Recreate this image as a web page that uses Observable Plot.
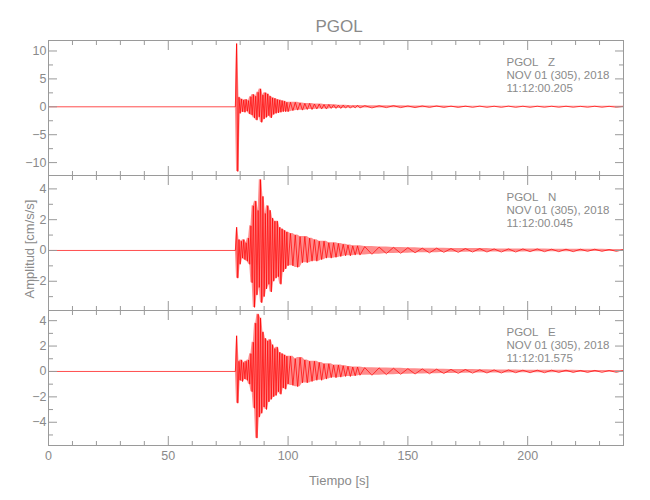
<!DOCTYPE html>
<html>
<head>
<meta charset="utf-8">
<script src="https://cdn.jsdelivr.net/npm/d3@7"></script>
<script src="https://cdn.jsdelivr.net/npm/@observablehq/plot@0.6"></script>
<style>
  html, body { margin: 0; padding: 0; background: #fff; }
  #wrap { position: relative; width: 650px; height: 500px; overflow: hidden; }
  #wrap svg { position: absolute; left: 0; background: transparent !important; overflow: visible; }
</style>
</head>
<body>
<div id="wrap"></div>
<script>
// ---------- data ----------
const chartTitle = "PGOL";
const station = "PGOL";
const components = ["Z", "N", "E"];
const recordDates = ["NOV 01 (305), 2018", "NOV 01 (305), 2018", "NOV 01 (305), 2018"];
const startTimes = ["11:12:00.205", "11:12:00.045", "11:12:01.575"];
const xLabel = "Tiempo [s]";
const yLabel = "Amplitud [cm/s/s]";

// sample times (s) of the read-off peaks
const timeSec = [0, 78,
  78.5, 79, 79.5, 80, 80.5, 81, 81.5, 82, 82.5, 83,
  83.5, 84, 84.5, 85, 85.5, 86, 86.5, 87, 87.5, 88,
  88.5, 89, 89.5, 90, 90.5, 91, 91.5, 92, 92.5, 93,
  93.5, 94, 94.5, 95, 95.5, 96, 96.5, 97, 97.5, 98,
  98.5, 99, 99.5, 100,
  101, 102, 103, 104, 105, 106, 107, 108, 109, 110,
  111, 112, 113, 114, 115, 116, 117, 118, 119, 120,
  121, 122, 123, 124, 125, 126, 127, 128, 129, 130,
  132, 135, 138, 141, 144, 147, 150, 153, 156, 159,
  162, 165, 168, 171, 174, 177, 180, 183, 186, 189,
  192, 195, 198, 201, 204, 207, 210, 213, 216, 219,
  222, 225, 228, 231, 234, 237, 240];

// amplitude (cm/s/s), component Z
const ampZ = [0, 0,
  11.3, -11.6, 1.7, -1.2, 1.4, -0.9, 1.2, -1.0, 1.3, -0.8,
  1.1, -1.3, 1.8, -1.5, 2.2, -2.0, 1.9, -2.4, 2.6, -1.8,
  3.2, -2.8, 2.1, -2.2, 2.5, -1.9, 2.3, -1.6, 1.9, -2.0,
  1.6, -1.4, 1.5, -1.2, 1.3, -1.1, 1.2, -1.0, 1.1, -0.9,
  1.0, -0.9, 0.8, -0.9,
  0.8, -0.7, 0.8, -0.6, 0.7, -0.6, 0.6, -0.5, 0.6, -0.5,
  0.5, -0.4, 0.5, -0.4, 0.4, -0.4, 0.4, -0.3, 0.35, -0.3,
  0.3, -0.3, 0.3, -0.25, 0.25, -0.25, 0.2, -0.2, 0.25, -0.2,
  0.2, -0.2, 0.18, -0.15, 0.2, -0.15, 0.15, -0.15, 0.15, -0.12,
  0.15, -0.12, 0.12, -0.12, 0.12, -0.1, 0.12, -0.1, 0.1, -0.1,
  0.12, -0.1, 0.1, -0.1, 0.1, -0.08, 0.1, -0.08, 0.1, -0.08,
  0.08, -0.08, 0.1, -0.08, 0.08, -0.08, 0.08];

// component N
const ampN = [0, 0,
  1.5, -1.8, 0.7, -0.9, 0.6, -0.5, 0.7, -0.6, 0.5, -0.7,
  0.8, -0.9, 1.6, -2.1, 2.9, -3.7, 3.2, -2.9, 2.6, -2.4,
  4.6, -3.4, 3.5, -3.0, 2.4, -2.5, 2.9, -2.2, 2.6, -2.7,
  2.1, -2.0, 1.9, -1.8, 1.9, -1.7, 1.5, -2.2, 1.4, -1.4,
  1.3, -1.2, 1.2, -1.0,
  1.1, -1.0, 1.0, -1.1, 0.9, -0.8, 0.9, -0.8, 0.8, -0.7,
  0.7, -0.7, 0.6, -0.6, 0.6, -0.5, 0.5, -0.5, 0.5, -0.45,
  0.45, -0.4, 0.4, -0.35, 0.35, -0.35, 0.3, -0.3, 0.3, -0.3,
  0.25, -0.25, 0.22, -0.2, 0.2, -0.18, 0.18, -0.15, 0.15, -0.15,
  0.15, -0.12, 0.12, -0.12, 0.12, -0.1, 0.12, -0.1, 0.1, -0.1,
  0.1, -0.1, 0.1, -0.08, 0.1, -0.08, 0.08, -0.08, 0.08, -0.08,
  0.08, -0.06, 0.08, -0.06, 0.06, -0.06, 0.06];

// component E
const ampE = [0, 0,
  2.8, -2.5, 0.8, -0.7, 0.9, -0.8, 0.7, -0.6, 0.8, -0.7,
  0.9, -1.0, 1.4, -1.6, 2.3, -2.9, 3.8, -5.25, 4.5, -3.6,
  4.2, -3.3, 3.1, -2.8, 2.6, -3.0, 2.4, -2.4, 2.5, -2.2,
  2.1, -2.0, 1.8, -1.9, 1.9, -1.6, 1.5, -1.8, 1.4, -1.3,
  1.3, -1.4, 1.2, -1.0,
  1.2, -1.1, 1.0, -1.2, 1.1, -0.9, 0.9, -0.9, 0.8, -0.8,
  0.8, -0.7, 0.7, -0.7, 0.6, -0.6, 0.6, -0.5, 0.5, -0.5,
  0.5, -0.45, 0.45, -0.4, 0.4, -0.4, 0.35, -0.35, 0.35, -0.3,
  0.3, -0.3, 0.28, -0.25, 0.25, -0.22, 0.22, -0.2, 0.2, -0.18,
  0.18, -0.16, 0.16, -0.15, 0.15, -0.13, 0.13, -0.12, 0.12, -0.12,
  0.12, -0.1, 0.1, -0.1, 0.1, -0.1, 0.1, -0.08, 0.1, -0.08,
  0.08, -0.08, 0.08, -0.07, 0.07, -0.07, 0.07];

// tick values
const xTicksMajor = [0, 50, 100, 150, 200];
const xTicksMinor = [10, 20, 30, 40, 60, 70, 80, 90, 110, 120, 130, 140, 160, 170, 180, 190, 210, 220, 230, 240];
const yTicksZ = [-10, -5, 0, 5, 10];
const yMinorZ = [-7.5, -2.5, 2.5, 7.5];
const yTicksN = [-2, 0, 2, 4];
const yMinorN = [-3, -1, 1, 3];
const yTicksE = [-4, -2, 0, 2, 4];
const yMinorE = [-5, -3, -1, 1, 3];

// ---------- drawing ----------
const FONT = "'Liberation Sans', 'Noto Sans', sans-serif";
const AX = "#9a9a9a";
const TX = "#8a8a8a";
const wrap = document.getElementById("wrap");

const panels = [
  {amp: ampZ, domain: [-12.31, 11.88], major: yTicksZ, minor: yMinorZ, top: 0, mt: 40, mb: 10, first: true},
  {amp: ampN, domain: [-3.90, 4.87], major: yTicksN, minor: yMinorN, top: 165, mt: 10, mb: 10, ylab: true},
  {amp: ampE, domain: [-5.83, 4.80], major: yTicksE, minor: yMinorE, top: 300, mt: 10, mb: 55, last: true}
];

panels.forEach((p, k) => {
  const data = timeSec.map((t, i) => ({t, a: p.amp[i]}));
  // local envelope of neighbouring peaks (for the dense trace fill); quiet pre-event stays at 0
  const env = data.map((d, i) => {
    if (d.a === 0) return {t: d.t, lo: 0, hi: 0};
    const w = data.slice(Math.max(0, i - 1), i + 2).map(e => e.a);
    return {t: d.t, lo: d3.min(w), hi: d3.max(w)};
  });
  const blank = () => "";
  const marks = [
    Plot.areaY(env, {x: "t", y1: "lo", y2: "hi", fill: "#ff0000", fillOpacity: 0.45}),
    Plot.line(data, {x: "t", y: "a", stroke: "#ff0000", strokeWidth: 0.7}),
    Plot.frame({stroke: AX}),
    // y ticks (inward), left and right
    Plot.axisY(p.major, {anchor: "left", tickSize: -9, tickFormat: blank, stroke: AX, label: null}),
    Plot.axisY(p.minor, {anchor: "left", tickSize: -5, tickFormat: blank, stroke: AX, label: null}),
    Plot.axisY(p.major, {anchor: "right", tickSize: -9, tickFormat: blank, stroke: AX, label: null}),
    Plot.axisY(p.minor, {anchor: "right", tickSize: -5, tickFormat: blank, stroke: AX, label: null}),
    // y tick labels
    Plot.axisY(p.major, {anchor: "left", tickSize: 0, tickPadding: 2, fill: TX, stroke: null, fontSize: 12.5, label: null, tickFormat: d => d < 0 ? "\u2212" + Math.abs(d) : String(d)}),
    // x ticks top & bottom (inward)
    Plot.axisX(xTicksMajor, {anchor: "top", tickSize: -9, tickFormat: blank, stroke: AX, label: null}),
    Plot.axisX(xTicksMinor, {anchor: "top", tickSize: -4, tickFormat: blank, stroke: AX, label: null}),
    Plot.axisX(xTicksMajor, {anchor: "bottom", tickSize: -9, tickFormat: blank, stroke: AX, label: null}),
    Plot.axisX(xTicksMinor, {anchor: "bottom", tickSize: -4, tickFormat: blank, stroke: AX, label: null}),
    // station annotation
    Plot.text([`${station}\u00a0\u00a0\u00a0${components[k]}\n${recordDates[k]}\n${startTimes[k]}`], {
      frameAnchor: "top-right", textAnchor: "start", lineAnchor: "top",
      dx: -117, dy: 16, fontSize: 11.5, lineHeight: 1.15, fill: TX
    })
  ];
  if (p.first) {
    marks.push(Plot.text([chartTitle], {frameAnchor: "top", lineAnchor: "middle", dy: -14, dx: 3, fontSize: 17, fill: TX}));
  }
  if (p.ylab) {
    marks.push(Plot.text([yLabel], {frameAnchor: "left", rotate: -90, textAnchor: "middle", lineAnchor: "middle", dx: -19, dy: 6, fontSize: 13, fill: TX}));
  }
  if (p.last) {
    marks.push(Plot.axisX(xTicksMajor, {anchor: "bottom", tickSize: 0, tickPadding: 6, fill: TX, stroke: null, fontSize: 12.5, label: null}));
    marks.push(Plot.text([xLabel], {frameAnchor: "bottom", lineAnchor: "middle", dy: 35, dx: 3, fontSize: 13, fill: TX}));
  }
  const svg = Plot.plot({
    width: 650,
    height: p.mt + 135 + p.mb,
    marginLeft: 48, marginRight: 27, marginTop: p.mt, marginBottom: p.mb,
    x: {domain: [0, 240], label: null},
    y: {domain: p.domain, label: null},
    style: {background: "transparent", overflow: "visible", fontFamily: FONT, fontSize: "12.5px", color: TX},
    marks
  });
  svg.style.top = p.top + "px";
  wrap.appendChild(svg);
});
</script>
</body>
</html>
